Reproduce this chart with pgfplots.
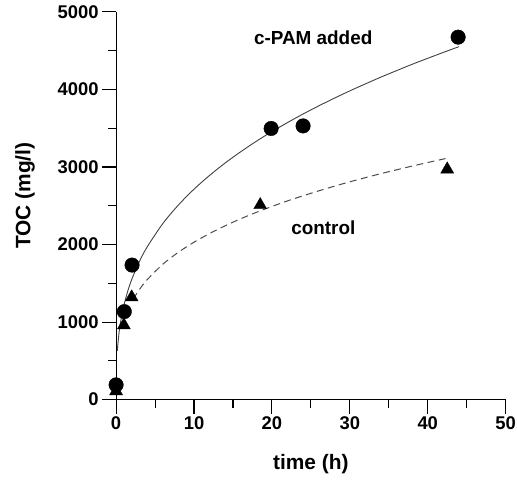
\documentclass[border=0pt]{standalone}
\usepackage{fontspec}
\setmainfont{Liberation Sans}
\usepackage{pgfplots}
\pgfplotsset{compat=1.18}
\begin{document}
\begin{tikzpicture}
\begin{axis}[
  scale only axis,
  width=391.6pt, height=389.7pt,
  at={(0,0)}, anchor=south west,
  xmin=0, xmax=50, ymin=0, ymax=5000,
  axis x line*=bottom, axis y line*=left,
  axis line style={line width=1.1pt},
  every tick/.style={line width=1.1pt, black},
  tick align=outside,
  major tick length=14pt, minor tick length=8pt,
  xtick={0,10,...,50}, ytick={0,1000,...,5000},
  minor tick num=1,
  clip=false,
  /pgf/number format/assume math mode=true,
  /pgf/number format/1000 sep={},
  ticklabel style={font=\bfseries\fontsize{18.5}{18.5}\selectfont},
  xlabel={time (h)}, ylabel={TOC (mg/l)},
  xlabel style={font=\bfseries\fontsize{21}{21}\selectfont, at={(axis description cs:0.5,-0.167)}, anchor=center},
  ylabel style={font=\bfseries\fontsize{21}{21}\selectfont, at={(axis description cs:-0.234,0.526)}, anchor=center, rotate=0},
]
\addplot[color=black!75, line width=0.9pt, smooth] coordinates {
(0.15,627) (0.4,882) (0.7,1073) (1,1215) (1.5,1400) (2,1548) (3,1783) (4,1971) (6,2271) (8,2510) (10,2714) (12,2892) (14,3052) (16,3197) (18,3332) (20,3457) (22,3573) (24,3684) (26,3788) (28,3887) (30,3982) (32,4072) (34,4160) (36,4243) (38,4325) (40,4402) (42,4478) (44,4552)};
\addplot[color=black!70, line width=1pt, dash pattern=on 7pt off 4.5pt, smooth] coordinates {
(2.2,1297) (3,1421) (4,1548) (6,1746) (8,1901) (10,2030) (12,2142) (14,2242) (16,2333) (18,2415) (20,2491) (22,2563) (24,2629) (26,2692) (28,2752) (30,2809) (32,2863) (34,2915) (36,2964) (38,3012) (40,3058) (42.3,3109)};
\addplot[only marks, mark=*, mark size=7.3pt, mark options={fill=black, draw=black}] coordinates {
(0,190) (1.05,1135) (2.05,1735) (19.9,3497) (24,3530) (43.9,4675)};
\addplot[only marks, mark=triangle*, mark size=7.5pt, mark options={fill=black, draw=black}] coordinates {
(0,110) (1,960) (2,1320) (18.5,2510) (42.5,2970)};
\node[font=\bfseries\fontsize{19}{19}\selectfont] at (axis cs:25.3,4669) {c-PAM added};
\node[font=\bfseries\fontsize{19}{19}\selectfont] at (axis cs:26.6,2217) {control};
\end{axis}
\pgfresetboundingbox
\path[use as bounding box] (-116.7pt,-80.3pt) rectangle (403pt,401.7pt);
\end{tikzpicture}
\end{document}
